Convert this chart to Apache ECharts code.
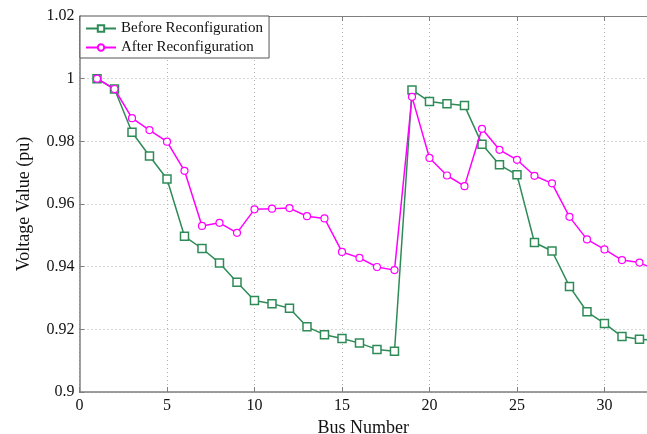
<!DOCTYPE html>
<html>
<head>
<meta charset="utf-8">
<script src="https://cdn.jsdelivr.net/npm/echarts@6/dist/echarts.min.js"></script>
<style>html,body{margin:0;padding:0;background:#fff;}#c{width:647px;height:434px;}</style>
</head>
<body>
<div id="c"></div>
<script>
const buses = [1,2,3,4,5,6,7,8,9,10,11,12,13,14,15,16,17,18,19,20,21,22,23,24,25,26,27,28,29,30,31,32,33];
const beforeValues = [1.0,0.9967,0.9829,0.9753,0.9680,0.9497,0.9458,0.9412,0.9350,0.9292,0.9282,0.9267,0.9208,0.9183,0.9171,0.9156,0.9136,0.9130,0.9964,0.9927,0.9920,0.9914,0.9791,0.9725,0.9693,0.9477,0.9450,0.9337,0.9256,0.9219,0.9177,0.9168,0.9166];
const afterValues = [1.0,0.9967,0.9874,0.9836,0.9799,0.9706,0.9530,0.9540,0.9508,0.9583,0.9585,0.9587,0.9561,0.9554,0.9447,0.9428,0.9399,0.9389,0.9942,0.9747,0.9691,0.9657,0.9840,0.9773,0.9741,0.9690,0.9666,0.9559,0.9487,0.9455,0.9421,0.9413,0.9388];
const seriesNames = ['Before Reconfiguration','After Reconfiguration'];
const xTicks = {min:0, max:32.43, interval:5};
const yTicks = {min:0.9, max:1.02, interval:0.02};

const font = 'Liberation Serif';
const axisGray = '#7f7f7f';
const chart = echarts.init(document.getElementById('c'));
const fmtY = v => String(parseFloat(v.toFixed(2)));
const gridLine = {show:true, lineStyle:{color:'#b0b0b0', type:[1,3], width:1}};
chart.setOption({
  animation:false,
  backgroundColor:'#fff',
  grid:{left:79.5, top:16, right:0, bottom:42, show:false, outerBoundsMode:'none', containLabel:false},
  legend:{
    orient:'vertical', left:80, top:16, itemWidth:30, itemHeight:8, itemGap:4,
    padding:[5,6,3,5], backgroundColor:'#fff', borderColor:'#555', borderWidth:1, borderRadius:0,
    textStyle:{fontFamily:font, fontSize:15, color:'#111'},
    data:seriesNames
  },
  xAxis:[{
    type:'value', min:xTicks.min, max:xTicks.max, interval:xTicks.interval,
    name:'Bus Number', nameLocation:'middle', nameGap:24,
    nameTextStyle:{fontFamily:font, fontSize:18, color:'#111'},
    axisLine:{show:true, onZero:false, lineStyle:{color:axisGray, width:1.5}},
    axisTick:{show:true, inside:true, length:5, lineStyle:{color:axisGray}},
    axisLabel:{fontFamily:font, fontSize:16, color:'#111', margin:6, showMaxLabel:false},
    splitLine:gridLine
  },{
    type:'value', position:'top', min:xTicks.min, max:xTicks.max, interval:xTicks.interval,
    axisLine:{show:true, onZero:false, lineStyle:{color:axisGray, width:1}},
    axisTick:{show:true, inside:true, length:5, lineStyle:{color:axisGray}},
    axisLabel:{show:false}, splitLine:{show:false}
  }],
  yAxis:{
    type:'value', min:yTicks.min, max:yTicks.max, interval:yTicks.interval,
    name:'Voltage Value (pu)', nameLocation:'middle', nameGap:46,
    nameTextStyle:{fontFamily:font, fontSize:18, color:'#111'},
    axisLine:{show:true, onZero:false, lineStyle:{color:axisGray, width:1.5}},
    axisTick:{show:true, inside:true, length:5, lineStyle:{color:axisGray}},
    axisLabel:{fontFamily:font, fontSize:16, color:'#111', margin:5, formatter:fmtY},
    splitLine:gridLine
  },
  series:[{
    name:seriesNames[0], type:'line', xAxisIndex:0,
    data:buses.map((b,i)=>[b,beforeValues[i]]),
    symbol:'rect', symbolSize:8, showAllSymbol:true, clip:true,
    lineStyle:{color:'#2e8b57', width:1.5},
    itemStyle:{color:'#ffffff', borderColor:'#2e8b57', borderWidth:1.5},
    z:3
  },{
    name:seriesNames[1], type:'line', xAxisIndex:0,
    data:buses.map((b,i)=>[b,afterValues[i]]),
    symbol:'circle', symbolSize:7, showAllSymbol:true, clip:true,
    lineStyle:{color:'#ff00ff', width:1.5},
    itemStyle:{color:'#ffffff', borderColor:'#ff00ff', borderWidth:1.2},
    z:4
  }]
});
</script>
</body>
</html>
